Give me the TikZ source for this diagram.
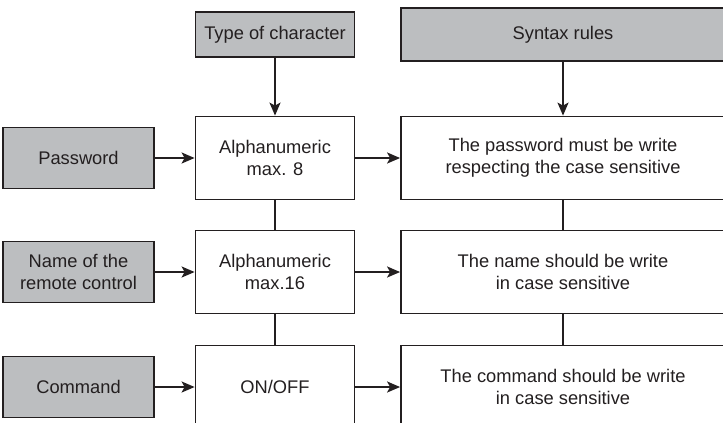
\documentclass[tikz,border=0pt]{standalone}
\usepackage{fontspec}
\setmainfont{Liberation Sans}
\usetikzlibrary{arrows.meta}
\definecolor{boxgray}{RGB}{188,190,192}
\definecolor{ink}{RGB}{35,31,32}

\begin{document}
\begin{tikzpicture}[x=1pt,y=-1pt,
  every node/.style={font=\fontsize{18.3}{22}\selectfont,align=center,text=ink},
  head/.style={draw=ink,line width=1.8pt,fill=boxgray,inner sep=0pt},
  cell/.style={draw=ink,line width=1.8pt,fill=white,inner sep=0pt,minimum height=83pt},
  link/.style={draw=ink,line width=1.8pt},
  feed/.style={link,-{Stealth[length=13pt,width=11pt,inset=3pt]}}]
  \useasboundingbox (0,0) rectangle (723,423);
  \clip (0,0) rectangle (723,423);
  % column headers
  \node[head,minimum width=159pt,minimum height=45pt] (typhead) at (275,34.5) {Type of character};
  \node[head,minimum width=324pt,minimum height=53pt] (synhead) at (563,34.5) {Syntax rules};
  % one row per parameter
  \foreach \r/\y/\inp/\typ/\rul in {
    1/158/{Password}/{Alphanumeric\\max. 8}/{The password must be write\\respecting the case sensitive},
    2/272/{Name of the\\remote control}/{Alphanumeric\\max.16}/{The name should be write\\in case sensitive},
    3/387/{Command}/{ON/OFF}/{The command should be write\\in case sensitive}} {
    \node[head,minimum width=151pt,minimum height=61pt] (in\r) at (78.5,\y) {\inp};
    \node[cell,minimum width=159pt] (ty\r) at (275,\y) {\typ};
    \node[cell,minimum width=324pt] (ru\r) at (563,\y) {\rul};
    \draw[feed] (in\r) -- (ty\r);
    \draw[feed] (ty\r) -- (ru\r);
  }
  \draw[feed] (typhead) -- (ty1);
  \draw[feed] (synhead) -- (ru1);
  % vertical links between rows
  \draw[link] (ty1) -- (ty2);
  \draw[link] (ty2) -- (ty3);
  \draw[link] (ru1) -- (ru2);
  \draw[link] (ru2) -- (ru3);
\end{tikzpicture}
\end{document}
